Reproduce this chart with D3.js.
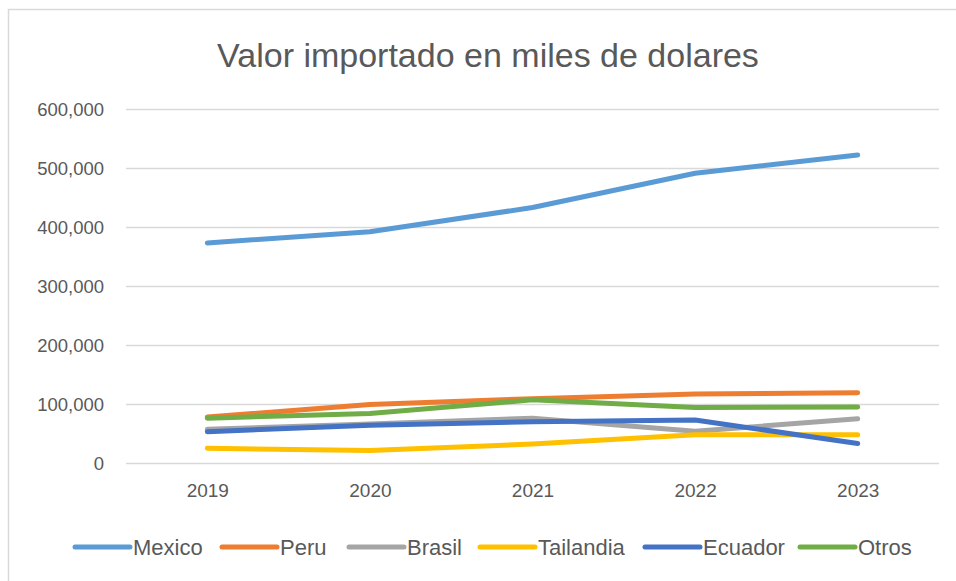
<!DOCTYPE html>
<html>
<head>
<meta charset="utf-8">
<script src="https://cdn.jsdelivr.net/npm/d3@7"></script>
<style>
  body { margin: 0; background: #fff; }
  text { font-family: "Liberation Sans", "DejaVu Sans", sans-serif; fill: #595959; }
</style>
</head>
<body>
<svg id="chart"></svg>
<script>
"use strict";

// data (thousands of dollars)
var years = ["2019", "2020", "2021", "2022", "2023"];
var mexico = [373000, 392000, 433000, 491000, 522000];
var peru = [78000, 99000, 109000, 117000, 119000];
var brasil = [57000, 66000, 76000, 54000, 75000];
var tailandia = [25000, 21000, 32000, 48000, 48000];
var ecuador = [53000, 64000, 70000, 73000, 33000];
var otros = [76000, 84000, 107000, 94000, 95000];
var yTicks = [0, 100000, 200000, 300000, 400000, 500000, 600000];

var seriesNames = ["Mexico", "Peru", "Brasil", "Tailandia", "Ecuador", "Otros"];
var seriesValues = [mexico, peru, brasil, tailandia, ecuador, otros];
var seriesColors = ["#5B9BD5", "#ED7D31", "#A5A5A5", "#FFC000", "#4472C4", "#70AD47"];

var _config = {
  width: 956,
  height: 581,
  plot: { left: 126, right: 939, top: 109, bottom: 463 }
};

var _svg = d3.select("#chart")
  .attr("width", _config.width)
  .attr("height", _config.height);

// outer chart border
_svg.append("rect")
  .attr("x", 8.5).attr("y", 9.5)
  .attr("width", 960).attr("height", 600)
  .attr("fill", "none")
  .attr("stroke", "#d9d9d9")
  .attr("stroke-width", 1.5);

var xScale = d3.scalePoint()
  .domain(years)
  .range([_config.plot.left, _config.plot.right])
  .padding(0.5);

var yScale = d3.scaleLinear()
  .domain([0, 600000])
  .range([_config.plot.bottom, _config.plot.top]);

// title
_svg.append("text")
  .attr("x", 488)
  .attr("y", 67)
  .attr("text-anchor", "middle")
  .style("font-size", "34px")
  .text("Valor importado en miles de dolares");

// gridlines + y labels
var yAxis = d3.axisLeft(yScale)
  .tickValues(yTicks)
  .tickSize(-(_config.plot.right - _config.plot.left))
  .tickPadding(22)
  .tickFormat(d3.format(","));

var gy = _svg.append("g")
  .attr("transform", "translate(" + _config.plot.left + ",0)")
  .call(yAxis);
gy.select(".domain").remove();
gy.selectAll(".tick line").attr("stroke", "#d9d9d9").attr("stroke-width", 1.5);
gy.selectAll(".tick text")
  .style("font-size", "18.5px")
  .attr("fill", "#595959")
  .attr("dy", "0.35em");

// x labels
var xAxis = d3.axisBottom(xScale).tickSize(0).tickPadding(21);
var gx = _svg.append("g")
  .attr("transform", "translate(0," + _config.plot.bottom + ")")
  .call(xAxis);
gx.select(".domain").remove();
gx.selectAll(".tick text")
  .style("font-size", "19px")
  .attr("fill", "#595959");

// lines
var line = d3.line()
  .x(function(d, i) { return xScale(years[i]); })
  .y(function(d) { return yScale(d); });

_svg.append("g")
  .selectAll("path")
  .data(seriesValues)
  .enter().append("path")
  .attr("d", function(d) { return line(d); })
  .attr("fill", "none")
  .attr("stroke", function(d, i) { return seriesColors[i]; })
  .attr("stroke-width", 5)
  .attr("stroke-linecap", "round")
  .attr("stroke-linejoin", "round");

// legend
var legendX = [75, 222, 349, 480, 645, 800];
var legendY = 547;
var leg = _svg.append("g")
  .selectAll("g")
  .data(seriesNames)
  .enter().append("g")
  .attr("transform", function(d, i) { return "translate(" + legendX[i] + "," + legendY + ")"; });

leg.append("line")
  .attr("x1", 0).attr("x2", 55)
  .attr("y1", 0).attr("y2", 0)
  .attr("stroke", function(d, i) { return seriesColors[i]; })
  .attr("stroke-width", 5)
  .attr("stroke-linecap", "round");

leg.append("text")
  .attr("x", 58)
  .attr("y", 0)
  .attr("dy", "0.35em")
  .style("font-size", "22px")
  .text(function(d) { return d; });
</script>
</body>
</html>
